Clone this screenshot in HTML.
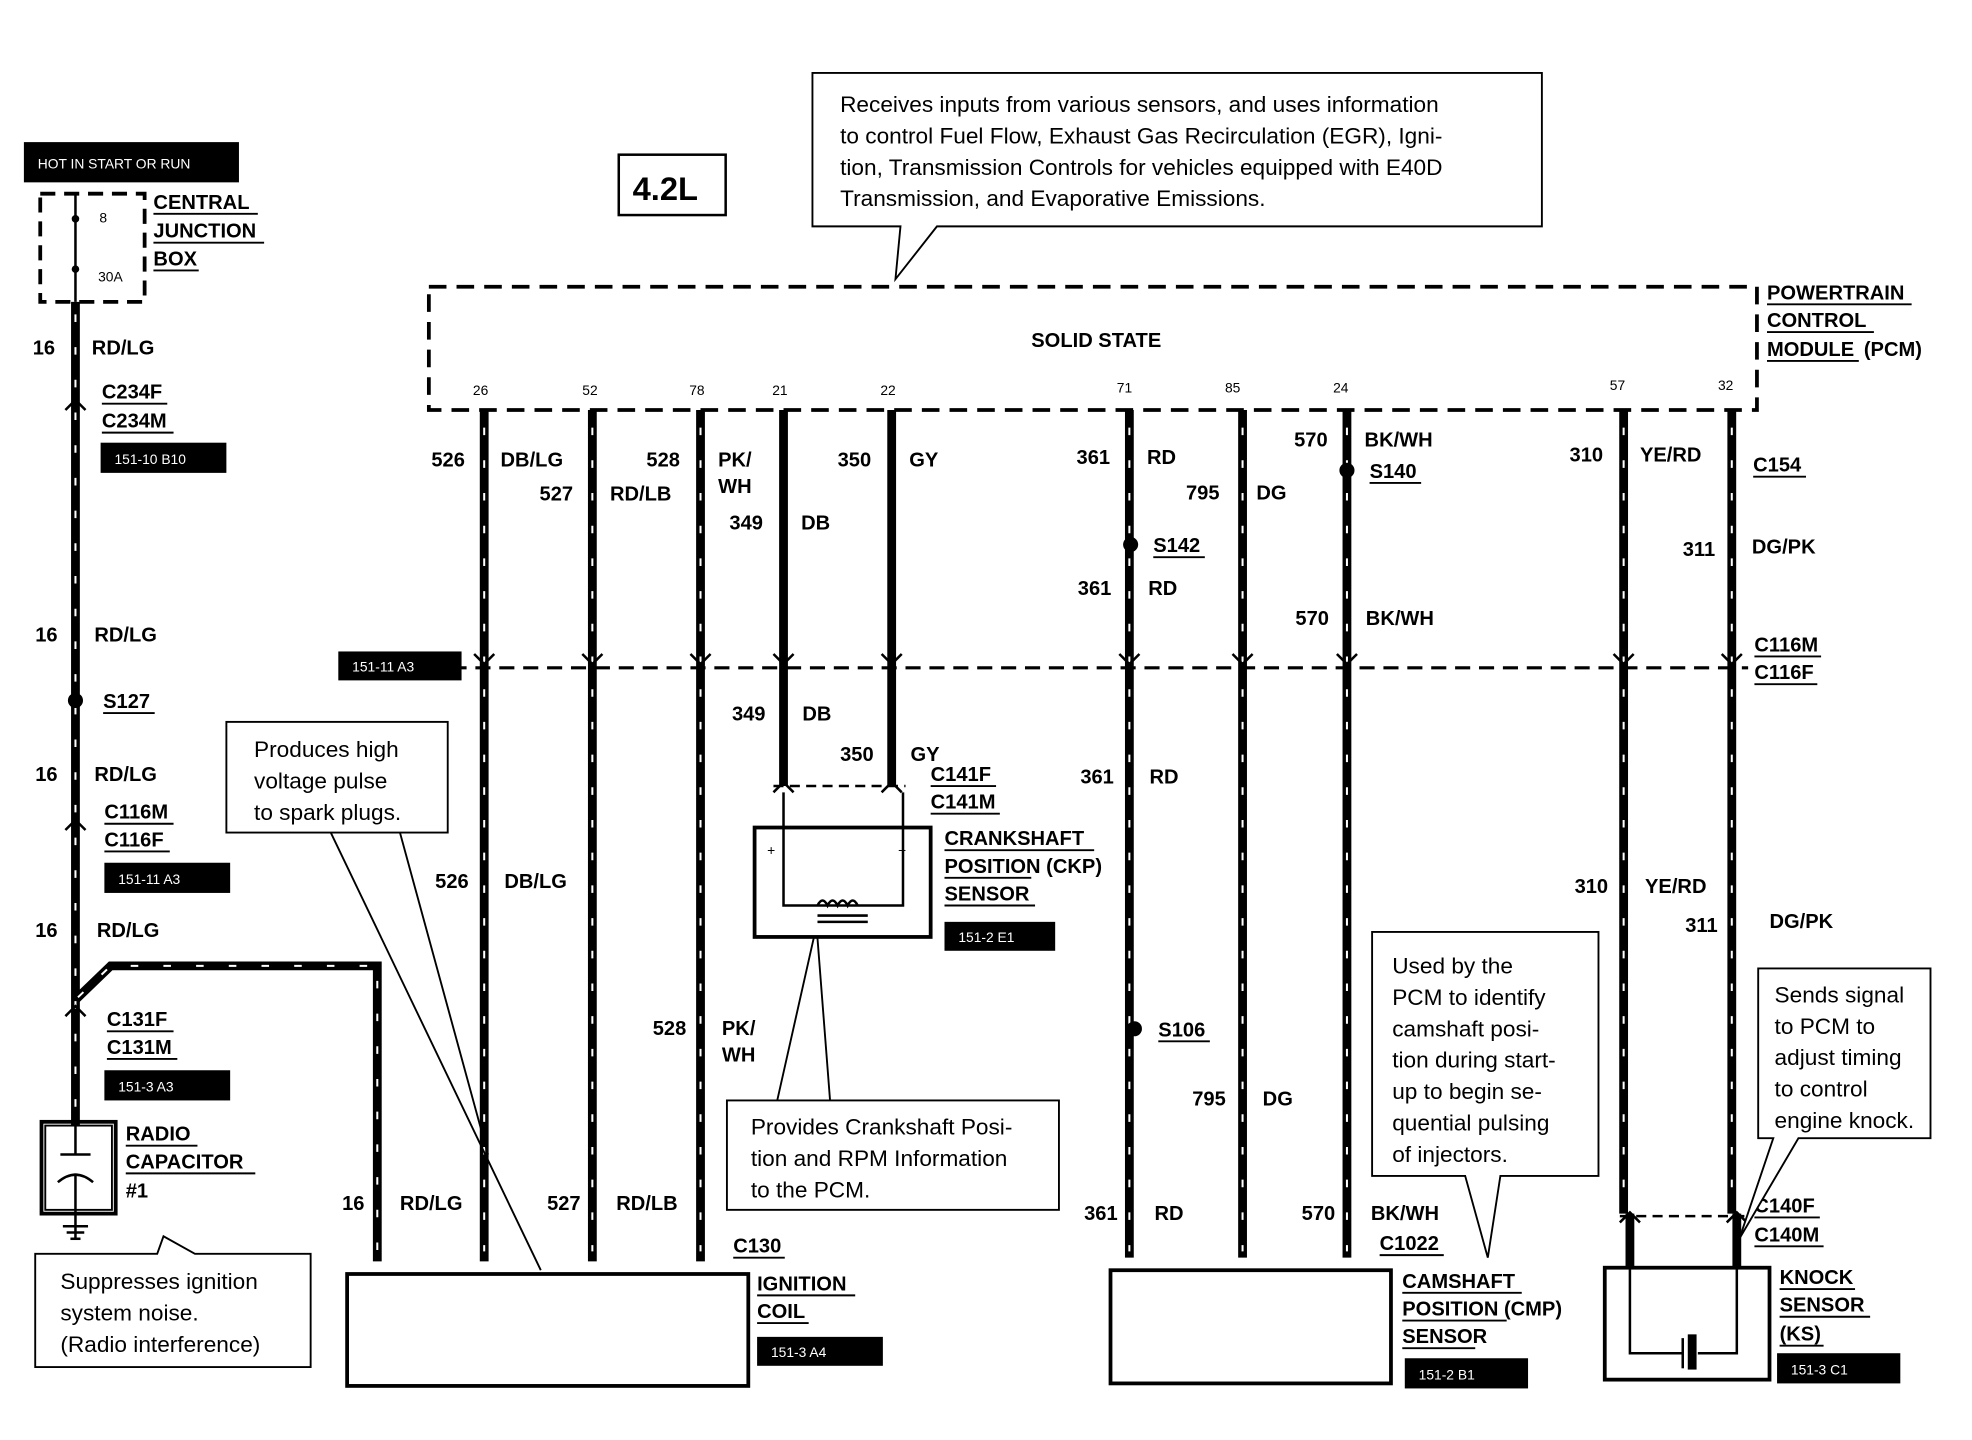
<!DOCTYPE html>
<html><head><meta charset="utf-8"><style>
html,body{margin:0;padding:0;background:#fff;}
svg{display:block;}
text{font-family:"Liberation Sans",Arial,sans-serif;fill:#000;}
.b{font-weight:bold;font-size:16px;}
.c{font-size:18px;}
.s{font-size:11px;fill:#fff;}
.p{font-size:11px;}
</style></head><body>
<svg width="1972" height="1440" viewBox="0 0 1568 1145" preserveAspectRatio="none" xmlns="http://www.w3.org/2000/svg">
<rect width="1568" height="1145" fill="#fff"/>
<!-- hot label -->
<rect x="19" y="113" width="171" height="32" fill="#000"/>
<text x="30" y="134" class="s">HOT IN START OR RUN</text>
<rect x="32" y="154" width="83" height="86" fill="none" stroke="#000" stroke-width="3" stroke-dasharray="12 7"/>
<line x1="60" y1="154" x2="60" y2="240" stroke="#000" stroke-width="2"/>
<circle cx="60" cy="174" r="3"/><circle cx="60" cy="214" r="3"/>
<text x="79" y="177" class="p">8</text><text x="78" y="224" class="p">30A</text>
<g class="b"><text x="122" y="166">CENTRAL</text><text x="122" y="189">JUNCTION</text><text x="122" y="211">BOX</text></g>
<g stroke="#000" stroke-width="1.5"><line x1="122" y1="170" x2="205" y2="170"/><line x1="122" y1="193" x2="210" y2="193"/><line x1="122" y1="215" x2="158" y2="215"/></g>

<!-- wires -->
<g stroke="#000" stroke-width="7" fill="none">
<line x1="60" y1="240" x2="60" y2="895"/>
<polyline points="60,795 88,768 300,768 300,1003"/>
<line x1="385" y1="326" x2="385" y2="1003"/>
<line x1="471" y1="326" x2="471" y2="1003"/>
<line x1="557" y1="326" x2="557" y2="1003"/>
<line x1="623" y1="326" x2="623" y2="625"/>
<line x1="709" y1="326" x2="709" y2="625"/>
<line x1="898" y1="326" x2="898" y2="1000"/>
<line x1="988" y1="326" x2="988" y2="1000"/>
<line x1="1071" y1="326" x2="1071" y2="1000"/>
<line x1="1291" y1="326" x2="1291" y2="965"/>
<line x1="1377" y1="326" x2="1377" y2="965"/>
<line x1="1296" y1="965" x2="1296" y2="1008"/>
<line x1="1381" y1="965" x2="1381" y2="1008"/>
</g>
<g stroke="#fff" stroke-width="1.6" fill="none" stroke-dasharray="6 20">
<line x1="60" y1="250" x2="60" y2="885"/>
<polyline points="62,793 88,768 300,768 300,995"/>
<line x1="385" y1="340" x2="385" y2="995"/>
<line x1="471" y1="340" x2="471" y2="995"/>
<line x1="557" y1="340" x2="557" y2="995"/>
<line x1="898" y1="340" x2="898" y2="995"/>
<line x1="988" y1="340" x2="988" y2="995"/>
<line x1="1071" y1="340" x2="1071" y2="995"/>
<line x1="1291" y1="340" x2="1291" y2="960"/>
<line x1="1377" y1="340" x2="1377" y2="960"/>
</g>
<g fill="none" stroke="#000" stroke-width="2">
<path d="M52,326 L60,318 L68,326"/><path d="M52,660 L60,652 L68,660"/><path d="M52,808 L60,800 L68,808"/>
<path d="M615,630 L623,622 L631,630"/><path d="M701,630 L709,622 L717,630"/>
<path d="M1288,972 L1296,964 L1304,972"/><path d="M1373,972 L1381,964 L1389,972"/>
<path d="M377,520 L385,528 L393,520"/><path d="M463,520 L471,528 L479,520"/><path d="M549,520 L557,528 L565,520"/><path d="M615,520 L623,528 L631,520"/><path d="M701,520 L709,528 L717,520"/><path d="M890,520 L898,528 L906,520"/><path d="M980,520 L988,528 L996,520"/><path d="M1063,520 L1071,528 L1079,520"/><path d="M1283,520 L1291,528 L1299,520"/><path d="M1369,520 L1377,528 L1385,520"/>
</g>
<line x1="340" y1="531" x2="1390" y2="531" stroke="#000" stroke-width="2.5" stroke-dasharray="12 7"/>
<line x1="615" y1="625" x2="720" y2="625" stroke="#000" stroke-width="2" stroke-dasharray="8 5"/>
<line x1="1288" y1="967" x2="1390" y2="967" stroke="#000" stroke-width="2" stroke-dasharray="8 5"/>
<rect x="269" y="518" width="98" height="23" fill="#000"/><text x="280" y="534" class="s">151-11 A3</text>

<g class="b">
<text x="26" y="282">16</text><text x="73" y="282">RD/LG</text>
<text x="81" y="317">C234F</text><text x="81" y="340">C234M</text>
<text x="28" y="510">16</text><text x="75" y="510">RD/LG</text>
<text x="82" y="563">S127</text>
<text x="28" y="621">16</text><text x="75" y="621">RD/LG</text>
<text x="83" y="651">C116M</text><text x="83" y="673">C116F</text>
<text x="28" y="745">16</text><text x="77" y="745">RD/LG</text>
<text x="85" y="816">C131F</text><text x="85" y="838">C131M</text>
<text x="100" y="907">RADIO</text><text x="100" y="929">CAPACITOR</text><text x="100" y="952">#1</text>
</g>
<g stroke="#000" stroke-width="1.5"><line x1="81" y1="321" x2="133" y2="321"/><line x1="81" y1="344" x2="138" y2="344"/><line x1="82" y1="567" x2="123" y2="567"/><line x1="83" y1="655" x2="138" y2="655"/><line x1="83" y1="677" x2="135" y2="677"/><line x1="85" y1="820" x2="138" y2="820"/><line x1="85" y1="842" x2="141" y2="842"/><line x1="100" y1="911" x2="157" y2="911"/><line x1="100" y1="933" x2="203" y2="933"/></g>
<circle cx="60" cy="557" r="6"/>
<rect x="80" y="352" width="100" height="24" fill="#000"/><text x="91" y="369" class="s">151-10 B10</text>
<rect x="83" y="686" width="100" height="24" fill="#000"/><text x="94" y="703" class="s">151-11 A3</text>
<rect x="83" y="851" width="100" height="24" fill="#000"/><text x="94" y="868" class="s">151-3 A3</text>
<rect x="33" y="892" width="59" height="73" fill="none" stroke="#000" stroke-width="3"/>
<rect x="36" y="895" width="53" height="67" fill="none" stroke="#000" stroke-width="1.5"/>
<g stroke="#000" stroke-width="2" fill="none"><line x1="60" y1="895" x2="60" y2="918"/><line x1="48" y1="918" x2="72" y2="918"/><path d="M46,940 Q60,928 74,940"/><line x1="60" y1="933" x2="60" y2="985"/><line x1="50" y1="975" x2="70" y2="975"/><line x1="53" y1="980" x2="67" y2="980"/><line x1="56" y1="985" x2="64" y2="985"/></g>
<path d="M28,997 L125,997 L130,983 L155,997 L247,997 L247,1087 L28,1087 Z" fill="#fff" stroke="#000" stroke-width="1.5"/>
<g class="c"><text x="48" y="1025">Suppresses ignition</text><text x="48" y="1050">system noise.</text><text x="48" y="1075">(Radio interference)</text></g>

<rect x="492" y="123" width="85" height="48" fill="none" stroke="#000" stroke-width="2"/>
<text x="503" y="159" style="font-size:26px;font-weight:bold">4.2L</text>
<path d="M646,58 L1226,58 L1226,180 L745,180 L712,222 L716,180 L646,180 Z" fill="#fff" stroke="#000" stroke-width="1.5"/>
<g class="c"><text x="668" y="89">Receives inputs from various sensors, and uses information</text><text x="668" y="114">to control Fuel Flow, Exhaust Gas Recirculation (EGR), Igni-</text><text x="668" y="139">tion, Transmission Controls for vehicles equipped with E40D</text><text x="668" y="164">Transmission, and Evaporative Emissions.</text></g>
<rect x="341" y="228" width="1056" height="98" fill="none" stroke="#000" stroke-width="3" stroke-dasharray="14 8"/>
<text x="820" y="276" class="b">SOLID STATE</text>
<g class="p"><text x="376" y="314">26</text><text x="463" y="314">52</text><text x="548" y="314">78</text><text x="614" y="314">21</text><text x="700" y="314">22</text><text x="888" y="312">71</text><text x="974" y="312">85</text><text x="1060" y="312">24</text><text x="1280" y="310">57</text><text x="1366" y="310">32</text></g>
<g class="b"><text x="1405" y="238">POWERTRAIN</text><text x="1405" y="260">CONTROL</text><text x="1405" y="283">MODULE</text><text x="1482" y="283">(PCM)</text></g>
<g stroke="#000" stroke-width="1.5"><line x1="1405" y1="242" x2="1520" y2="242"/><line x1="1405" y1="264" x2="1490" y2="264"/><line x1="1405" y1="287" x2="1478" y2="287"/></g>

<g class="b">
<text x="343" y="371">526</text><text x="398" y="371">DB/LG</text>
<text x="429" y="398">527</text><text x="485" y="398">RD/LB</text>
<text x="514" y="371">528</text><text x="571" y="371">PK/</text><text x="571" y="392">WH</text>
<text x="580" y="421">349</text><text x="637" y="421">DB</text>
<text x="666" y="371">350</text><text x="723" y="371">GY</text>
<text x="856" y="369">361</text><text x="912" y="369">RD</text>
<text x="943" y="397">795</text><text x="999" y="397">DG</text>
<text x="1029" y="355">570</text><text x="1085" y="355">BK/WH</text>
<text x="1089" y="380">S140</text>
<text x="917" y="439">S142</text>
<text x="857" y="473">361</text><text x="913" y="473">RD</text>
<text x="1030" y="497">570</text><text x="1086" y="497">BK/WH</text>
<text x="1248" y="367">310</text><text x="1304" y="367">YE/RD</text>
<text x="1394" y="375">C154</text>
<text x="1338" y="442">311</text><text x="1393" y="440">DG/PK</text>
<text x="1395" y="518">C116M</text><text x="1395" y="540">C116F</text>
<text x="582" y="573">349</text><text x="638" y="573">DB</text>
<text x="668" y="605">350</text><text x="724" y="605">GY</text>
<text x="740" y="621">C141F</text><text x="740" y="643">C141M</text>
<text x="751" y="672">CRANKSHAFT</text><text x="751" y="694">POSITION (CKP)</text><text x="751" y="716">SENSOR</text>
<text x="859" y="623">361</text><text x="914" y="623">RD</text>
<text x="346" y="706">526</text><text x="401" y="706">DB/LG</text>
<text x="1252" y="710">310</text><text x="1308" y="710">YE/RD</text>
<text x="1340" y="741">311</text><text x="1407" y="738">DG/PK</text>
<text x="519" y="823">528</text><text x="574" y="823">PK/</text><text x="574" y="844">WH</text>
<text x="921" y="824">S106</text>
<text x="948" y="879">795</text><text x="1004" y="879">DG</text>
<text x="272" y="962">16</text><text x="318" y="962">RD/LG</text>
<text x="435" y="962">527</text><text x="490" y="962">RD/LB</text>
<text x="862" y="970">361</text><text x="918" y="970">RD</text>
<text x="1035" y="970">570</text><text x="1090" y="970">BK/WH</text>
<text x="1097" y="994">C1022</text>
<text x="583" y="996">C130</text>
<text x="602" y="1026">IGNITION</text><text x="602" y="1048">COIL</text>
<text x="1115" y="1024">CAMSHAFT</text><text x="1115" y="1046">POSITION (CMP)</text><text x="1115" y="1068">SENSOR</text>
<text x="1395" y="964">C140F</text><text x="1395" y="987">C140M</text>
<text x="1415" y="1021">KNOCK</text><text x="1415" y="1043">SENSOR</text><text x="1415" y="1066">(KS)</text>
</g>
<g stroke="#000" stroke-width="1.5">
<line x1="1089" y1="384" x2="1130" y2="384"/><line x1="917" y1="443" x2="958" y2="443"/><line x1="1394" y1="379" x2="1436" y2="379"/>
<line x1="1395" y1="522" x2="1448" y2="522"/><line x1="1395" y1="544" x2="1445" y2="544"/>
<line x1="740" y1="625" x2="792" y2="625"/><line x1="740" y1="647" x2="795" y2="647"/>
<line x1="751" y1="676" x2="870" y2="676"/><line x1="751" y1="698" x2="820" y2="698"/><line x1="751" y1="720" x2="823" y2="720"/>
<line x1="921" y1="828" x2="962" y2="828"/><line x1="1097" y1="998" x2="1148" y2="998"/><line x1="583" y1="1000" x2="624" y2="1000"/>
<line x1="602" y1="1030" x2="680" y2="1030"/><line x1="602" y1="1052" x2="643" y2="1052"/>
<line x1="1115" y1="1028" x2="1210" y2="1028"/><line x1="1115" y1="1050" x2="1198" y2="1050"/><line x1="1115" y1="1072" x2="1173" y2="1072"/>
<line x1="1395" y1="968" x2="1447" y2="968"/><line x1="1395" y1="991" x2="1450" y2="991"/>
<line x1="1415" y1="1025" x2="1475" y2="1025"/><line x1="1415" y1="1047" x2="1487" y2="1047"/><line x1="1415" y1="1070" x2="1450" y2="1070"/>
</g>
<circle cx="1071" cy="374" r="6"/><circle cx="899" cy="433" r="6"/><circle cx="902" cy="818" r="6"/>

<rect x="600" y="658" width="140" height="87" fill="none" stroke="#000" stroke-width="3"/>
<g stroke="#000" stroke-width="2" fill="none"><polyline points="623,630 623,720 718,720 718,630"/>
<path d="M650,720 q4,-8 8,0 q4,-8 8,0 q4,-8 8,0 q4,-8 8,0"/><line x1="650" y1="728" x2="690" y2="728"/><line x1="650" y1="733" x2="690" y2="733"/></g>
<text x="610" y="680" class="p">+</text><text x="714" y="680" class="p">−</text>
<rect x="751" y="733" width="88" height="23" fill="#000"/><text x="762" y="749" class="s">151-2 E1</text>

<rect x="276" y="1013" width="319" height="89" fill="none" stroke="#000" stroke-width="3"/>
<rect x="602" y="1063" width="100" height="23" fill="#000"/><text x="613" y="1079" class="s">151-3 A4</text>
<g stroke="#000" stroke-width="1.5"><line x1="263" y1="662" x2="430" y2="1010"/><line x1="318" y1="662" x2="388" y2="918"/></g>
<rect x="180" y="574" width="176" height="88" fill="#fff" stroke="#000" stroke-width="1.5"/>
<g class="c"><text x="202" y="602">Produces high</text><text x="202" y="627">voltage pulse</text><text x="202" y="652">to spark plugs.</text></g>

<g stroke="#000" stroke-width="1.5"><line x1="647" y1="746" x2="618" y2="875"/><line x1="650" y1="746" x2="660" y2="875"/></g>
<rect x="578" y="875" width="264" height="87" fill="#fff" stroke="#000" stroke-width="1.5"/>
<g class="c"><text x="597" y="902">Provides Crankshaft Posi-</text><text x="597" y="927">tion and RPM Information</text><text x="597" y="952">to the PCM.</text></g>

<rect x="883" y="1010" width="223" height="90" fill="none" stroke="#000" stroke-width="3"/>
<rect x="1117" y="1080" width="98" height="24" fill="#000"/><text x="1128" y="1097" class="s">151-2 B1</text>
<path d="M1091,741 L1271,741 L1271,935 L1193,935 L1183,1000 L1165,935 L1091,935 Z" fill="#fff" stroke="#000" stroke-width="1.5"/>
<g class="c"><text x="1107" y="774">Used by the</text><text x="1107" y="799">PCM to identify</text><text x="1107" y="824">camshaft posi-</text><text x="1107" y="849">tion during start-</text><text x="1107" y="874">up to begin se-</text><text x="1107" y="899">quential pulsing</text><text x="1107" y="924">of injectors.</text></g>

<rect x="1276" y="1008" width="131" height="89" fill="none" stroke="#000" stroke-width="3"/>
<g stroke="#000" stroke-width="2" fill="none"><polyline points="1296,1008 1296,1076 1338,1076"/><polyline points="1381,1008 1381,1076 1350,1076"/><line x1="1338" y1="1064" x2="1338" y2="1088"/><rect x="1343" y="1062" width="5" height="26" fill="#000"/></g>
<rect x="1413" y="1076" width="98" height="24" fill="#000"/><text x="1424" y="1093" class="s">151-3 C1</text>
<path d="M1398,770 L1535,770 L1535,905 L1430,905 L1383,985 L1410,905 L1398,905 Z" fill="#fff" stroke="#000" stroke-width="1.5"/>
<g class="c"><text x="1411" y="797">Sends signal</text><text x="1411" y="822">to PCM to</text><text x="1411" y="847">adjust timing</text><text x="1411" y="872">to control</text><text x="1411" y="897">engine knock.</text></g>
</svg>
</body></html>
